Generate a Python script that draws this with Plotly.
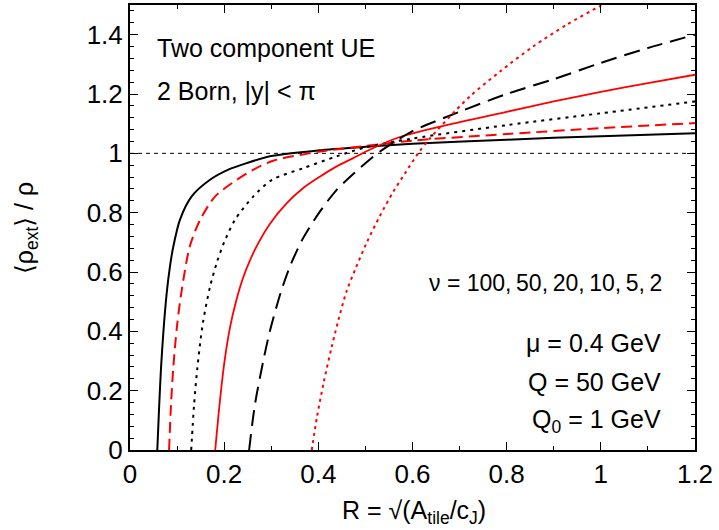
import plotly.graph_objects as go

# nu = 100 (black solid)
R100 = [0.058, 0.062, 0.066, 0.071, 0.078, 0.085, 0.092, 0.106, 0.131, 0.17, 0.209, 0.248, 0.297, 0.4, 0.5, 0.6, 0.8, 1.0, 1.2]
Y100 = [0.0, 0.15, 0.28, 0.40, 0.53, 0.62, 0.686, 0.776, 0.855, 0.911, 0.945, 0.967, 0.99, 1.010, 1.022, 1.032, 1.046, 1.058, 1.068]
# nu = 50 (red dashed)
R50 = [0.083, 0.087, 0.092, 0.100, 0.110, 0.127, 0.149, 0.181, 0.227, 0.262, 0.304, 0.4, 0.5, 0.6, 0.8, 1.0, 1.2]
Y50 = [0.0, 0.15, 0.28, 0.42, 0.54, 0.686, 0.776, 0.855, 0.911, 0.945, 0.975, 1.005, 1.025, 1.043, 1.065, 1.085, 1.102]
# nu = 20 (black dotted)
R20 = [0.130, 0.136, 0.143, 0.155, 0.170, 0.185, 0.200, 0.223, 0.262, 0.302, 0.368, 0.439, 0.5, 0.6, 0.8, 1.0, 1.2]
Y20 = [0.0, 0.15, 0.276, 0.43, 0.55, 0.635, 0.70, 0.776, 0.855, 0.911, 0.950, 0.990, 1.02, 1.05, 1.095, 1.135, 1.175]
# nu = 10 (red solid)
R10 = [0.181, 0.19, 0.2, 0.212, 0.225, 0.24, 0.255, 0.27, 0.297, 0.333, 0.368, 0.404, 0.439, 0.474, 0.51, 0.573, 0.7, 0.8, 0.9, 1.0, 1.1, 1.2]
Y10 = [0.0, 0.15, 0.29, 0.41, 0.50, 0.58, 0.64, 0.69, 0.762, 0.832, 0.883, 0.922, 0.956, 0.984, 1.013, 1.055, 1.105, 1.14, 1.175, 1.207, 1.237, 1.265]
# nu = 5 (black long dash)
R5 = [0.253, 0.265, 0.283, 0.297, 0.32, 0.34, 0.368, 0.404, 0.439, 0.474, 0.51, 0.531, 0.573, 0.6, 0.7, 0.8, 0.9, 1.0, 1.1, 1.2]
Y5 = [0.0, 0.15, 0.3, 0.4, 0.53, 0.62, 0.715, 0.805, 0.877, 0.93, 0.98, 1.006, 1.05, 1.075, 1.14, 1.2, 1.25, 1.305, 1.355, 1.40]
# nu = 2 (red dotted)
R2 = [0.386, 0.397, 0.411, 0.428, 0.443, 0.460, 0.480, 0.503, 0.531, 0.559, 0.585, 0.612, 0.637, 0.68, 0.722, 0.786, 0.857, 0.928, 0.998, 1.03]
Y2 = [0.0, 0.11, 0.225, 0.345, 0.44, 0.535, 0.615, 0.70, 0.79, 0.87, 0.935, 1.0, 1.05, 1.125, 1.192, 1.276, 1.361, 1.434, 1.496, 1.52]

REF_X = [0.0, 1.2]
REF_Y = [1.0, 1.0]

X_TICKS = [0, 0.2, 0.4, 0.6, 0.8, 1.0, 1.2]
X_TICKTEXT = ["0", "0.2", "0.4", "0.6", "0.8", "1", "1.2"]
Y_TICKS = [0, 0.2, 0.4, 0.6, 0.8, 1.0, 1.2, 1.4]
Y_TICKTEXT = ["0", "0.2", "0.4", "0.6", "0.8", "1", "1.2", "1.4"]

FONT = "Liberation Sans, Arial, DejaVu Sans, sans-serif"

fig = go.Figure()
fig.add_trace(go.Scatter(x=REF_X, y=REF_Y, mode="lines",
                         line=dict(color="black", width=1, dash="4px,4px")))

series = [
    (R100, Y100, "black", 2, "solid"),
    (R50, Y50, "red", 2, "11px,6px"),
    (R20, Y20, "black", 2, "3px,5px"),
    (R10, Y10, "red", 1.8, "solid"),
    (R5, Y5, "black", 2, "16px,8px"),
    (R2, Y2, "red", 2, "3px,4px"),
]
for rx, ry, col, w, d in series:
    fig.add_trace(go.Scatter(x=rx, y=ry, mode="lines",
                             line=dict(color=col, width=w, dash=d, shape="spline", smoothing=0.8)))

axis_common = dict(
    showline=True, linecolor="black", linewidth=2, mirror="ticks",
    ticks="inside", ticklen=8, tickwidth=1.2, tickcolor="black",
    showgrid=False, zeroline=False, automargin=False,
    tickfont=dict(family=FONT, size=26, color="black"),
)
fig.update_xaxes(range=[0, 1.2], tickvals=X_TICKS, ticktext=X_TICKTEXT,
                 minor=dict(ticks="inside", ticklen=4, dtick=0.1, tick0=0, tickcolor="black", tickwidth=1.2),
                 **axis_common)
fig.update_yaxes(range=[0, 1.5], tickvals=Y_TICKS, ticktext=Y_TICKTEXT,
                 minor=dict(ticks="inside", ticklen=4, dtick=0.04, tick0=0, tickcolor="black", tickwidth=1.2),
                 **axis_common)

W, H = 719, 530
L, Rm, T, B = 130, 24, 5, 80


def xf(px):
    return (px - L) / (W - L - Rm)


def yf(py):
    return 1 - (py - T) / (H - T - B)


# axis titles
fig.add_annotation(text="R = √(A<sub>tile</sub>/c<sub>J</sub>)", x=xf(414), y=yf(512),
                   xref="paper", yref="paper", xanchor="center", yanchor="middle",
                   showarrow=False, font=dict(family=FONT, size=25, color="black"))
fig.add_annotation(text="⟨ρ<sub>ext</sub>⟩ / ρ", x=xf(26), y=yf(228), textangle=-90,
                   xref="paper", yref="paper", xanchor="center", yanchor="middle",
                   showarrow=False, font=dict(family=FONT, size=25, color="black"))

TS = "\u2009"
NU_TEXT = "ν = 100," + TS + "50," + TS + "20," + TS + "10," + TS + "5," + TS + "2"
anns = [
    ("Two component UE", 155, 48, "left", 25),
    ("2 Born, |y| < π", 155, 91, "left", 25),
    (NU_TEXT, 664, 283, "right", 23),
    ("μ = 0.4 GeV", 663, 343, "right", 25),
    ("Q = 50 GeV", 663, 382, "right", 25),
    ("Q<sub>0</sub> = 1 GeV", 663, 421, "right", 25),
]
for text, px, py, anchor, fs in anns:
    fig.add_annotation(text=text, x=xf(px), y=yf(py), xref="paper", yref="paper",
                       xanchor=anchor, yanchor="middle", showarrow=False,
                       font=dict(family=FONT, size=fs, color="black"))

fig.update_layout(
    width=W, height=H, showlegend=False,
    margin=dict(l=L, r=Rm, t=T, b=B, autoexpand=False),
    plot_bgcolor="white", paper_bgcolor="white",
)
fig.write_html("out.html", config={"displayModeBar": False},
               post_script="document.body.style.margin='0';document.body.style.padding='0';document.body.style.overflow='hidden';")
